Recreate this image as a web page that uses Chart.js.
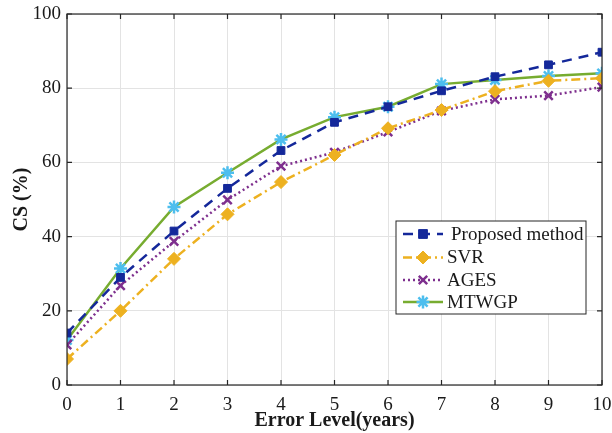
<!DOCTYPE html>
<html>
<head>
<meta charset="utf-8">
<script src="https://cdn.jsdelivr.net/npm/chart.js@4.4.1/dist/chart.umd.min.js"></script>
<style>
  body { margin: 0; background: #fff; }
  #wrap { width: 612px; height: 433px; }
</style>
</head>
<body>
<div id="wrap"><canvas id="chart" width="612" height="433"></canvas></div>
<script>
// datos
const errorLevels = [0, 1, 2, 3, 4, 5, 6, 7, 8, 9, 10];
const proposed = [14, 29, 41.5, 53, 63.2, 70.8, 75, 79.3, 83.1, 86.3, 89.7];
const svr      = [7, 20, 34, 46, 54.7, 62, 69.2, 74.1, 79.2, 82, 82.7];
const ages     = [10.8, 26.8, 38.7, 49.9, 59, 62.7, 68.2, 73.9, 77, 78, 80.3];
const mtwgp    = [12.1, 31.4, 48, 57.2, 66.2, 72.2, 75, 81.1, 82.2, 83.3, 84];
const yTicks = [0, 20, 40, 60, 80, 100];

const FONT = "'Liberation Serif', 'Times New Roman', serif";

function pts(arr) {
    return arr.map((v, i) => ({ x: errorLevels[i], y: v }));
}

const datasets = [
    { label: 'Proposed method', data: pts(proposed), borderColor: '#14289a', backgroundColor: '#14289a',
      borderDash: [10, 7], borderWidth: 2.5, pointStyle: 'rect', pointRadius: 5.5,
      pointBackgroundColor: '#14289a', pointBorderColor: '#14289a', pointBorderWidth: 1 },
    { label: 'SVR', data: pts(svr), borderColor: '#edb120', backgroundColor: '#edb120',
      borderDash: [9, 4, 2, 4], borderWidth: 2.5, pointStyle: 'rectRot', pointRadius: 6.5,
      pointBackgroundColor: '#edb120', pointBorderColor: '#edb120', pointBorderWidth: 1 },
    { label: 'AGES', data: pts(ages), borderColor: '#7e2f8e', backgroundColor: '#7e2f8e',
      borderDash: [2, 3], borderWidth: 2.5, pointStyle: 'crossRot', pointRadius: 6,
      pointBorderColor: '#7e2f8e', pointBorderWidth: 2.5 },
    { label: 'MTWGP', data: pts(mtwgp), borderColor: '#77ac30', backgroundColor: '#77ac30',
      borderWidth: 2.5, pointStyle: 'star', pointRadius: 6.5,
      pointBorderColor: '#4dbeee', pointBackgroundColor: '#4dbeee', pointBorderWidth: 2.5 }
];

function drawMarker(ctx, style, r, x, y) {
    ctx.beginPath();
    if (style === 'rect') {
        ctx.rect(x - r * 0.8, y - r * 0.8, r * 1.6, r * 1.6);
        ctx.fill(); ctx.stroke();
    } else if (style === 'rectRot') {
        ctx.moveTo(x, y - r); ctx.lineTo(x + r, y); ctx.lineTo(x, y + r); ctx.lineTo(x - r, y); ctx.closePath();
        ctx.fill(); ctx.stroke();
    } else if (style === 'crossRot') {
        const d = r * 0.7;
        ctx.moveTo(x - d, y - d); ctx.lineTo(x + d, y + d);
        ctx.moveTo(x + d, y - d); ctx.lineTo(x - d, y + d);
        ctx.stroke();
    } else {
        for (let k = 0; k < 4; k++) {
            const ang = k * Math.PI / 4;
            ctx.moveTo(x - Math.cos(ang) * r, y - Math.sin(ang) * r);
            ctx.lineTo(x + Math.cos(ang) * r, y + Math.sin(ang) * r);
        }
        ctx.stroke();
    }
}

// marco, marcas hacia dentro y leyenda
const decoPlugin = {
    id: 'deco',
    afterDatasetsDraw(chart) {
        const ctx = chart.ctx;
        const a = chart.chartArea;
        const xs = chart.scales.x, ys = chart.scales.y;
        ctx.save();
        ctx.strokeStyle = '#262626';
        ctx.lineWidth = 1.2;
        ctx.setLineDash([]);
        ctx.strokeRect(a.left, a.top, a.right - a.left, a.bottom - a.top);
        ctx.beginPath();
        errorLevels.forEach(v => {
            const px = xs.getPixelForValue(v);
            ctx.moveTo(px, a.bottom); ctx.lineTo(px, a.bottom - 5);
            ctx.moveTo(px, a.top); ctx.lineTo(px, a.top + 5);
        });
        yTicks.forEach(v => {
            const py = ys.getPixelForValue(v);
            ctx.moveTo(a.left, py); ctx.lineTo(a.left + 5, py);
            ctx.moveTo(a.right, py); ctx.lineTo(a.right - 5, py);
        });
        ctx.stroke();

        // leyenda
        const bx = 396, by = 221, bw = 190, bh = 93;
        ctx.fillStyle = '#fff';
        ctx.fillRect(bx, by, bw, bh);
        ctx.strokeStyle = '#262626';
        ctx.lineWidth = 1;
        ctx.strokeRect(bx, by, bw, bh);
        const rows = [234, 257.5, 280, 302];
        chart.data.datasets.forEach((ds, i) => {
            const y = rows[i];
            ctx.save();
            ctx.strokeStyle = ds.borderColor;
            ctx.lineWidth = ds.borderWidth;
            ctx.setLineDash(ds.borderDash || []);
            ctx.beginPath();
            ctx.moveTo(403, y); ctx.lineTo(443, y);
            ctx.stroke();
            ctx.restore();
            ctx.save();
            ctx.setLineDash([]);
            ctx.fillStyle = ds.pointBackgroundColor || ds.borderColor;
            ctx.strokeStyle = ds.pointBorderColor;
            ctx.lineWidth = ds.pointBorderWidth;
            drawMarker(ctx, ds.pointStyle, ds.pointRadius, 423, y);
            ctx.restore();
            ctx.fillStyle = '#1a1a1a';
            ctx.font = '19px ' + FONT;
            ctx.textBaseline = 'middle';
            ctx.fillText(ds.label, i === 0 ? 451 : 447, y + 1);
        });
        ctx.restore();
    }
};

const ctx = document.getElementById('chart').getContext('2d');
new Chart(ctx, {
    type: 'line',
    data: { datasets: datasets },
    options: {
        responsive: false,
        animation: false,
        layout: { padding: { top: 14, right: 10, left: 0, bottom: 0 } },
        plugins: { legend: { display: false }, tooltip: { enabled: false } },
        scales: {
            x: {
                type: 'linear', min: 0, max: 10,
                afterFit: s => { s.height = 48; s.paddingLeft = 0; s.paddingRight = 0; },
                afterBuildTicks: s => { s.ticks = errorLevels.map(v => ({ value: v })); },
                grid: { color: '#e3e3e3', lineWidth: 1, drawTicks: false },
                border: { display: false },
                ticks: { color: '#1a1a1a', font: { family: FONT, size: 19 }, padding: 9, maxRotation: 0 },
                title: { display: true, text: 'Error Level(years)', color: '#1a1a1a',
                         font: { family: FONT, size: 20, weight: 'bold' }, padding: { top: -8, bottom: 0 } }
            },
            y: {
                type: 'linear', min: 0, max: 100,
                afterFit: s => { s.width = 67; s.paddingTop = 0; s.paddingBottom = 0; },
                afterBuildTicks: s => { s.ticks = yTicks.map(v => ({ value: v })); },
                grid: { color: '#e3e3e3', lineWidth: 1, drawTicks: false },
                border: { display: false },
                ticks: { color: '#1a1a1a', font: { family: FONT, size: 19 }, padding: 6 },
                title: { display: true, text: 'CS (%)', color: '#1a1a1a',
                         font: { family: FONT, size: 20, weight: 'bold' }, padding: { top: 10, bottom: 0 } }
            }
        }
    },
    plugins: [decoPlugin]
});
</script>
</body>
</html>
